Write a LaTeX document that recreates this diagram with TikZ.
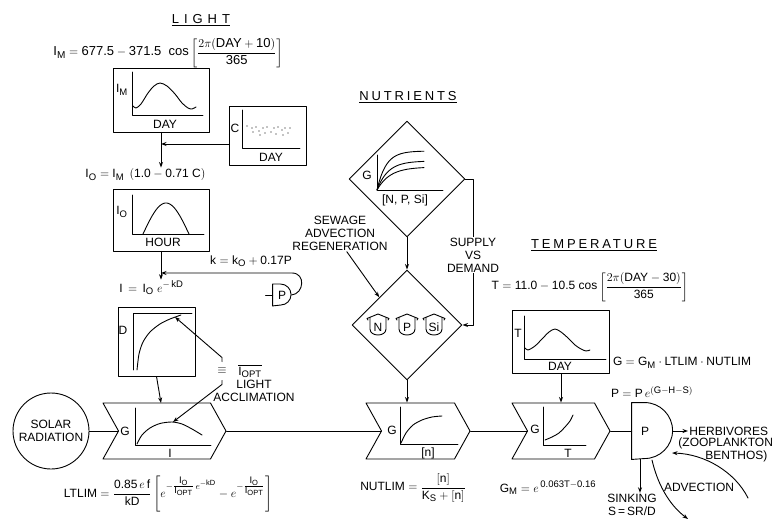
\documentclass[tikz,border=0pt]{standalone}
\usepackage{amsmath}
\usepackage{fontspec}
\setmainfont{Liberation Sans}
\DeclareMathSizes{12}{12}{9.5}{7.5}
\DeclareMathSizes{13}{13}{10}{8}
\usetikzlibrary{arrows.meta,shapes.geometric,shapes.symbols}
\newcommand{\tx}[1]{\text{#1}}
\providecommand{\phytoLineWidth}{0.9pt}
\providecommand{\phytoLetterSize}{12}
\tikzset{
  plotbox/.style={draw, rectangle, inner sep=0pt},
  gbox/.style={draw, signal, signal from=west, signal to=east,
    signal pointer angle=122, inner sep=0pt, minimum height=56},
  flow/.style={-{Stealth[length=5.5pt,width=4pt]}},
  heading/.style={font=\fontsize{13}{15}\selectfont},
  tank/.pic={
    \draw (-10,6) -- (-11,7.5) -- (0,12) -- (11,7.5) -- (10,6);
    \draw (-8,8.3) -- (-8,-3) .. controls (-8,-11) and (8,-11) .. (8,-3) -- (8,8.3);
  }
}
\begin{document}
\begin{tikzpicture}[x=1pt, y=1pt, line width=\phytoLineWidth, line cap=round, line join=round,
  every node/.style={font=\fontsize{\phytoLetterSize}{13}\selectfont, inner sep=1pt}]
\useasboundingbox (0,0) rectangle (783,522);
% ---------------- LIGHT ----------------
\node[heading] (lightHead) at (201,502) {\underline{\addfontfeature{LetterSpace=38}LIGHT}};
\node[anchor=west, heading] (imEq) at (52,469)
  {$\tx{I}_{\tx{M}}=\tx{677.5}-\tx{371.5}\ \ \tx{cos}\left[\dfrac{2\pi(\tx{DAY}+\tx{10})}{\tx{365}}\right]$};
% I_M versus day
\node[plotbox, minimum width=96, minimum height=64] (imBox) at (161,422) {};
\draw (132,450) -- (132,407) -- (203,407);
\node (imAxis) at (122,432) {$\tx{I}_{\tx{M}}$};
\node (imDay) at (165,398) {DAY};
\draw plot[smooth] coordinates {(133,416) (136,414) (141,418) (148,429) (154,436) (160,439) (167,436) (175,428) (182,419) (188,414) (192,413) (196,415)};
% cloud cover
\node[plotbox, minimum width=77, minimum height=59] (cBox) at (267.5,386.5) {};
\draw (242,412) -- (242,374) -- (300,374);
\node (cAxis) at (235,394) {C};
\node (cDay) at (271,365) {DAY};
\foreach \px/\py in {247/396, 252/394, 256/395, 259/391, 263/394, 267/395, 271/390, 274/394,
  278/395, 282/392, 285/394, 288/389, 290/394, 253/390, 260/387, 265/389, 276/388, 283/387}
  \fill (\px,\py) circle (0.6);
\coordinate (cJoin) at (161,378);
\draw[flow] (cBox.west |- cJoin) -- (cJoin);
\node[anchor=west] (i0Eq) at (84,347) {$\tx{I}_{\tx{O}}=\tx{I}_{\tx{M}}\ \,(\tx{1.0}-\tx{0.71 C})$};
\draw[flow] (imBox.south) -- (imBox.south |- i0Eq.north);
% I_O versus hour
\node[plotbox, minimum width=96, minimum height=62] (i0Box) at (161,302) {};
\draw (132,327) -- (132,288) -- (204,288);
\node (i0Axis) at (122,310) {$\tx{I}_{\tx{O}}$};
\node (i0Hour) at (163,280) {HOUR};
\draw plot[domain=0:180, samples=30] ({143+46*\x/180},{288+31*sin(\x)});
\node[anchor=west] (iEq) at (118,234) {$\tx{I}\,=\,\tx{I}_{\tx{O}}\;e^{-\,\tx{kD}}$};
\draw[flow] (i0Box.south) -- (i0Box.south |- iEq.north);
% extinction from P
\node (kEq) at (251,261) {$\tx{k}=\tx{k}_{\tx{O}}+\tx{0.17P}$};
\node[minimum width=18, minimum height=21, inner sep=0] (pMini) at (282,227) {P};
\draw (pMini.north west) -- ++(8,0) arc (90:-90:10.5) -- (pMini.south west) -- cycle;
\draw (pMini.west) -- ++(-7,0);
\coordinate (kJoin) at (161,249);
\draw[flow] (pMini.east) .. controls (304,228) and (306,249) .. (292,249) -- (kJoin);
% depth versus light optimum
\node[plotbox, minimum width=77, minimum height=69] (dBox) at (156.5,180.5) {};
\draw (133,152) -- (133,209) -- (192,209);
\node (dAxis) at (123,192) {D};
\draw plot[smooth] coordinates {(137,152) (139,168) (143,180) (150,190) (160,198) (170,203) (181,207)};
\draw[flow] (dBox.south) -- (161,119);
% light acclimation
\node[minimum height=18, inner sep=0] (eqv) at (222,151) {$\equiv$};
\node (iOpt) at (250,151) {$\overline{\tx{I}_{\tx{OPT}}}$};
\node[align=center] (acclim) at (254,131) {LIGHT\\ACCLIMATION};
\coordinate (dOpt) at (175,205);
\coordinate (gOpt) at (173,100);
\draw[flow] (eqv.north) -- ++(0,4) -- (dOpt);
\draw[flow] (eqv.south) -- ++(0,-4) -- (gOpt);
% light limitation
\node[draw, circle, minimum size=76, inner sep=0, align=center] (solar) at (51,91) {SOLAR\\RADIATION};
\node[gbox, minimum width=123] (lightG) at (164.5,91) {};
\draw (135,114) -- (135,77) -- (211,77);
\node (lightGAxis) at (125,91) {G};
\node (lightI) at (170,69) {I};
\draw plot[smooth] coordinates {(137,78) (142,87) (150,94) (160,98.5) (172,100) (182,98) (192,93) (202,87)};
\draw (solar) -- (lightG);
\node (ltlimEq) at (168,28)
  {$\tx{LTLIM}=\dfrac{\tx{0.85}\,e\,\tx{f}}{\tx{kD}}\left[e^{-\genfrac{}{}{}{1}{\tx{I}_{\tx{O}}}{\tx{I}_{\tx{OPT}}}\,e^{-\tx{kD}}}-e^{-\genfrac{}{}{}{1}{\tx{I}_{\tx{O}}}{\tx{I}_{\tx{OPT}}}}\right]$};
% ---------------- NUTRIENTS ----------------
\node[heading] (nutHead) at (408,425) {\underline{\addfontfeature{LetterSpace=22}NUTRIENTS}};
\node[draw, diamond, minimum size=116, inner sep=0] (upDiam) at (407,343) {};
\draw (377,367) -- (377,332) -- (443,332);
\node (upAxis) at (367,347) {G};
\node (upConc) at (405,322) {[N, P, Si]};
\foreach \amp/\rate in {39/9, 29/11, 23/13}
  \draw plot[domain=377:424, samples=25] (\x,{332+\amp*(1-exp(-(\x-377)/\rate))});
\node[draw, diamond, minimum size=110, inner sep=0] (lowDiam) at (407,197) {};
\pic at (378,196) {tank};
\pic at (407,196) {tank};
\pic at (434,196) {tank};
\node (tankN) at (378,195) {N};
\node (tankP) at (407,195) {P};
\node (tankSi) at (434,195) {Si};
\draw[flow] (upDiam.south) -- (lowDiam.north);
\coordinate (supCorner) at (473,343);
\draw[flow] (upDiam.east) -- (supCorner) |- (lowDiam.east);
\node[fill=white, align=center] (supply) at (473,267) {SUPPLY\\VS\\DEMAND};
\node[align=center] (sewage) at (340,289) {SEWAGE\\ADVECTION\\REGENERATION};
\draw[flow] (sewage.290) -- (lowDiam.north west);
% nutrient limitation
\node[gbox, minimum width=104] (nutG) at (418,91) {};
\draw (400,115) -- (400,78) -- (458,78);
\node (nutGAxis) at (392,92) {G};
\node (nutN) at (428,69) {[n]};
\draw plot[smooth] coordinates {(401,79) (406,89) (413,97) (422,102) (432,105) (442,106)};
\draw[flow] (lowDiam.south) -- (lowDiam.south |- nutG.north);
\draw (lightG) -- (nutG);
\node (nutlimEq) at (413,34) {$\tx{NUTLIM}=\dfrac{[\tx{n}]}{\tx{K}_{\tx{S}}+[\tx{n}]}$};
% ---------------- TEMPERATURE ----------------
\node[heading] (tempHead) at (594,277) {\underline{\addfontfeature{LetterSpace=22}TEMPERATURE}};
\node (tEq) at (590,235)
  {$\tx{T}=\tx{11.0}-\tx{10.5}\ \tx{cos}\left[\dfrac{2\pi(\tx{DAY}-\tx{30})}{\tx{365}}\right]$};
\node[plotbox, minimum width=97, minimum height=63] (tBox) at (561,180.5) {};
\draw (524,206) -- (524,163) -- (606,163);
\node (tAxis) at (518,189) {T};
\node (tDay) at (560,156) {DAY};
\draw plot[smooth] coordinates {(525,174) (528,172) (535,176) (542,183) (549,190) (555,193) (561,190) (568,184) (575,177) (581,173) (586,171) (590,172)};
\node[gbox, minimum width=98] (tempG) at (561,91) {};
\draw (543,115) -- (543,77) -- (586,77);
\node (tempGAxis) at (535,93) {G};
\node (tempT) at (568,69) {T};
\draw plot[smooth] coordinates {(545,82) (552,85) (559,89) (565,95) (570,101) (573,107)};
\draw[flow] (tBox.south) -- (tempG.north);
\draw (nutG) -- (tempG);
\node (gmEq) at (548,34) {$\tx{G}_{\tx{M}}=e^{\,\tx{0.063T}-\tx{0.16}}$};
% ---------------- PHYTOPLANKTON ----------------
\node (gEq) at (682,159) {$\tx{G}=\tx{G}_{\tx{M}}\cdot\tx{LTLIM}\cdot\tx{NUTLIM}$};
\node (pEq) at (652,130) {$\tx{P}=\tx{P}\,e^{(\tx{G}-\tx{H}-\tx{S})}$};
\node[minimum width=26, minimum height=56, inner sep=0] (pGate) at (645,91) {P};
\draw (pGate.north west) -- ++(13,0) arc (90:-90:28) -- (pGate.south west) -- cycle;
\draw (tempG) -- (pGate.west);
\coordinate (pRight) at (673,91);
\node[anchor=west] (herb) at (688,91) {HERBIVORES};
\node[anchor=west, align=left] (zoo) at (677,72) {(ZOOPLANKTON\\\hspace*{27pt}BENTHOS)};
\draw[flow] (pRight) -- (herb.west);
\node[align=center] (sink) at (632,17) {SINKING\\S\,=\,SR/D};
\draw[flow] ([xshift=-5]pGate.south) -- ([xshift=-5]pGate.south |- sink.north);
\node (advLab) at (699,35) {ADVECTION};
\coordinate (advIn) at (748,24);
\coordinate (advInTip) at (672,69);
\draw[flow] (advIn) .. controls (735,50) and (705,68) .. (advInTip);
\coordinate (advOutStart) at (652,62);
\coordinate (advOut) at (688,3);
\draw[flow] (advOutStart) .. controls (657,40) and (668,18) .. (advOut);
\end{tikzpicture}
\end{document}
